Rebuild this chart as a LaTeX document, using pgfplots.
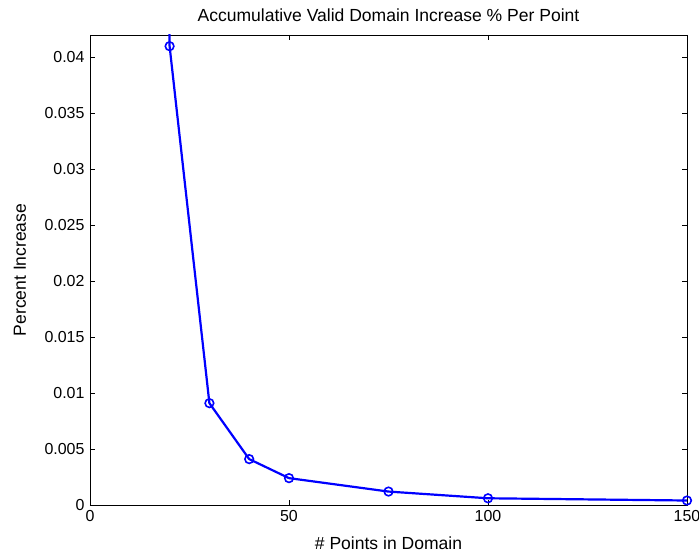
\documentclass[border=0pt]{standalone}
\usepackage{fontspec}
\setmainfont{Liberation Sans}
\usepackage{pgfplots}
\pgfplotsset{compat=1.18}

\begin{document}
\begin{tikzpicture}
\begin{axis}[
  scale only axis,
  width=597bp, height=470bp,
  xmin=0, xmax=150,
  ymin=0, ymax=0.042,
  xtick={0,50,100,150},
  ytick={0,0.005,0.01,0.015,0.02,0.025,0.03,0.035,0.04},
  yticklabels={0,0.005,0.01,0.015,0.02,0.025,0.03,0.035,0.04},
  scaled y ticks=false,
  /pgf/number format/assume math mode=true,
  tick align=inside,
  major tick length=5bp,
  axis line style={black, line width=0.8bp},
  tick style={black, line width=0.8bp},
  font=\fontsize{17.6}{20}\selectfont,
  ticklabel style={font=\fontsize{16}{18}\selectfont},
  xticklabel style={yshift=-2bp},
  yticklabel style={xshift=-2bp},
  title={Accumulative Valid Domain Increase \% Per Point},
  title style={at={(axis description cs:0.5,1)}, anchor=center, yshift=14bp},
  xlabel={\# Points in Domain},
  xlabel style={at={(axis description cs:0.5,0)}, anchor=center, yshift=-38bp},
  ylabel={Percent Increase},
  ylabel style={at={(axis description cs:-0.1173,0.5)}, anchor=center},
]
% curve of the average gain per added point
\addplot[color=blue, line width=2.2bp, mark=o, mark size=4.3bp,
  mark options={line width=1.6bp}]
  coordinates {
    (10,0.25) (20,0.041) (30,0.0091) (40,0.0041) (50,0.0024)
    (75,0.0012) (100,0.0006) (150,0.0004)
  };
\end{axis}
\pgfresetboundingbox
\useasboundingbox ([xshift=-90bp,yshift=-49bp]current axis.south west)
  rectangle ([xshift=12bp,yshift=35bp]current axis.north east);
\end{tikzpicture}
\end{document}
